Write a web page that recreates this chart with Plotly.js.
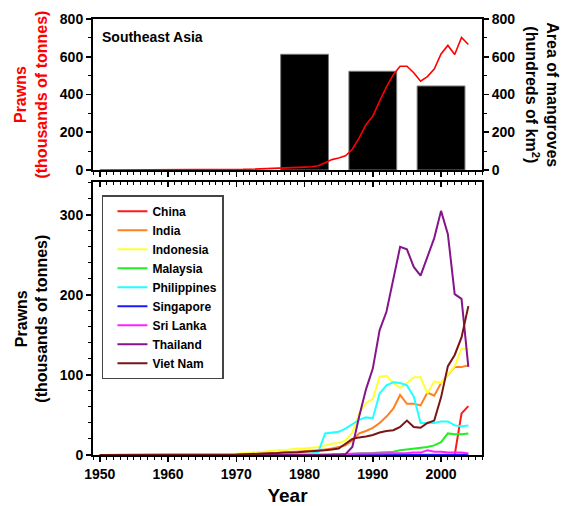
<!DOCTYPE html>
<html>
<head>
<meta charset="utf-8">
<script src="https://cdn.plot.ly/plotly-3.0.1.min.js"></script>
<style>html,body{margin:0;padding:0;background:#fff;}#chart{width:565px;height:506px;}</style>
</head>
<body>
<div id="chart"></div>
<script>
const years = [1950,1951,1952,1953,1954,1955,1956,1957,1958,1959,
  1960,1961,1962,1963,1964,1965,1966,1967,1968,1969,
  1970,1971,1972,1973,1974,1975,1976,1977,1978,1979,
  1980,1981,1982,1983,1984,1985,1986,1987,1988,1989,
  1990,1991,1992,1993,1994,1995,1996,1997,1998,1999,
  2000,2001,2002,2003,2004];

const seAsia = [0,0,0,0,0,0,0,0,0,0,
  0,0,0,0,0,0,0.5,1,1.5,2,
  2.5,3,4,5,6,7,8,9,11,13,
  15,17,22,38,55,63,75,110,170,240,
  285,365,440,505,550,550,515,470,495,535,
  615,660,612,702,665];

const mangroveYears = [1980, 1990, 2000];
const mangroveArea = [613, 523, 445];

const china = [0,0,0,0,0,0,0,0,0,0,
  0,0,0,0,0,0,0,0,0,0,
  0,0,0,0,0,0,0,0,0,0,
  0,0,0,0,0,0,0,0,0,0,
  0,0,0,0,0,0,0,0,0,0,
  0,0,0,52,61];
const india = [0,0,0,0,0,0,0,0,0,0,
  0,0,0,0,0,0,0,0,0,0,
  0.5,1,1,1.5,2,2,2.5,3,3.5,4,
  4.5,5,6,7,8,10,12,18,27,30,
  34,40,48,58,75,64,64,62,78,74,
  90,100,110,110,112];
const indonesia = [0,0,0,0,0,0,0,0,0,0,
  0,0,0,0,0,0,0,0,0.5,1,
  1.5,2,2.5,3,4,5,6,6,7,8,
  8,9,10,12,14,15,18,28,52,65,
  70,98,99,90,84,90,97,97,77,92,
  90,100,111,133,132];
const malaysia = [0,0,0,0,0,0,0,0,0,0,
  0,0,0,0,0,0,0,0,0,0,
  0,0,0,0,0,0,0,0,0,0,
  0.5,0.5,0.5,1,1,1,1,1.5,2,2,
  2.5,3,3.5,4,6,7,8,9,10,12,
  16,27,26,26,27];
const philippines = [0,0,0,0,0,0,0,0,0,0,
  0,0,0,0,0,0,0,0,0,0,
  0.5,0.5,0.5,1,1,1,1,1,1.5,1.5,
  1.5,2,3,27,28,29,33,38,44,47,
  46,77,87,91,90,87,73,40,40,40,
  42,42,37,36,37];
const singapore = [null,null,null,null,null,null,null,null,null,null,
  null,null,null,null,null,null,null,null,null,null,
  null,null,null,null,null,null,null,null,null,null,
  null,null,null,null,0.3,0.3,0.3,0.3,0.3,0.3,
  0.3,0.3,0.3,0.3,0.3,0.3,0.3,0.3,0.3,0.3,
  0.3,0.3,0.3,0.3,0.3];
const sriLanka = [null,null,null,null,null,null,null,null,null,null,
  null,null,null,null,null,null,null,null,null,null,
  null,null,null,null,null,null,null,null,null,null,
  null,null,null,null,0.5,1,1,1.5,2,2,
  2,2,2,2,2.5,2.5,3,3,6,4,
  4,3,3,3,2];
const thailand = [0,0,0,0,0,0,0,0,0,0,
  0,0,0,0,0,0,0,0,0,0,
  0,0,0,0,0,0,0,0,0,0,
  0,0,0,0,0,0,1,10,48,82,
  108,156,179,219,260,257,235,224,248,271,
  305,276,201,195,110];
const vietNam = [0,0,0,0,0,0,0,0,0,0,
  0,0,0,0,0,0,0,0,0,0,
  0.5,1,1,1.5,2,2,2.5,3,3,3.5,
  4,4.5,5,6,7,8,14,20,22,23,
  25,28,30,31,35,43,35,34,40,43,
  72,111,125,147,186];

const countryNames = ["China","India","Indonesia","Malaysia","Philippines","Singapore","Sri Lanka","Thailand","Viet Nam"];
const countryData = [china, india, indonesia, malaysia, philippines, singapore, sriLanka, thailand, vietNam];
const countryColors = ["#ff1a1a","#ff8020","#ffff33","#22ee22","#22ffff","#1a1aff","#ff22ff","#85158a","#7a1515"];

const FONT = "Liberation Sans, Arial, Helvetica, sans-serif";

const traces = [];
traces.push({
  type: "bar", x: mangroveYears, y: mangroveArea, xaxis: "x", yaxis: "y",
  width: 7, marker: {color: "#000", line: {color: "#777", width: 1}},
  showlegend: false, hoverinfo: "skip"
});
traces.push({
  type: "scatter", mode: "lines", x: years, y: seAsia, xaxis: "x", yaxis: "y3",
  line: {color: "#ff0000", width: 1.6}, showlegend: false, hoverinfo: "skip"
});
countryNames.forEach((n, i) => {
  traces.push({
    type: "scatter", mode: "lines", name: n, x: years, y: countryData[i],
    xaxis: "x2", yaxis: "y2", line: {color: countryColors[i], width: 2},
    connectgaps: false
  });
});
traces.push({type: "scatter", mode: "lines", x: [], y: [], xaxis: "x3", yaxis: "y2", showlegend: false, hoverinfo: "skip"});

const tickFont = {family: FONT, size: 14, color: "#000", weight: "bold"};
const xRange = [1949, 2006];

const layout = {
  width: 565, height: 506,
  margin: {l: 93, r: 83, t: 19, b: 51},
  paper_bgcolor: "#fff", plot_bgcolor: "rgba(0,0,0,0)",
  font: {family: FONT, color: "#000"},
  bargap: 0,
  xaxis: {
    domain: [0, 1], anchor: "y", range: xRange, tick0: 1950, dtick: 10,
    ticks: "outside", ticklen: 5, tickwidth: 1.5, tickcolor: "#000",
    minor: {dtick: 1, ticks: "outside", ticklen: 3, tickwidth: 1, tickcolor: "#000"},
    showticklabels: false, showline: true, linewidth: 2, linecolor: "#000", mirror: true,
    showgrid: false, zeroline: false
  },
  yaxis: {
    domain: [0.6537, 1], anchor: "x", side: "right", range: [0, 800], dtick: 200,
    ticks: "outside", ticklen: 5, tickwidth: 1.5, tickcolor: "#000",
    minor: {dtick: 100, ticks: "outside", ticklen: 3, tickwidth: 1, tickcolor: "#000"},
    tickfont: tickFont, showline: true, linewidth: 2, linecolor: "#000",
    showgrid: false, zeroline: false
  },
  yaxis3: {
    overlaying: "y", anchor: "x", side: "left", range: [0, 800], dtick: 200,
    ticks: "outside", ticklen: 5, tickwidth: 1.5, tickcolor: "#000",
    minor: {dtick: 100, ticks: "outside", ticklen: 3, tickwidth: 1, tickcolor: "#000"},
    tickfont: tickFont, showline: true, linewidth: 2, linecolor: "#000",
    showgrid: false, zeroline: false
  },
  xaxis2: {
    domain: [0, 1], anchor: "y2", range: xRange, tick0: 1950, dtick: 10,
    ticks: "outside", ticklen: 5, tickwidth: 1.5, tickcolor: "#000",
    minor: {dtick: 1, ticks: "outside", ticklen: 3, tickwidth: 1, tickcolor: "#000"},
    tickfont: tickFont, showline: true, linewidth: 2, linecolor: "#000", mirror: true,
    showgrid: false, zeroline: false,
    title: {text: "Year", font: {family: FONT, size: 19, color: "#000", weight: "bold"}, standoff: 8}
  },
  xaxis3: {
    overlaying: "x2", anchor: "y2", side: "top", range: xRange, tick0: 1950, dtick: 10,
    ticks: "inside", ticklen: 5, tickwidth: 1.5, tickcolor: "#000",
    minor: {dtick: 1, ticks: "inside", ticklen: 3, tickwidth: 1, tickcolor: "#000"},
    showticklabels: false, showline: false, showgrid: false, zeroline: false
  },
  yaxis2: {
    domain: [0, 0.626], anchor: "x2", range: [0, 341], dtick: 100,
    ticks: "outside", ticklen: 5, tickwidth: 1.5, tickcolor: "#000",
    minor: {dtick: 20, ticks: "outside", ticklen: 3, tickwidth: 1, tickcolor: "#000"},
    tickfont: tickFont, showline: true, linewidth: 2, linecolor: "#000", mirror: true,
    showgrid: false, zeroline: false
  },
  legend: {
    x: 0.023, y: 0.596, xanchor: "left", yanchor: "top",
    bgcolor: "#fff", bordercolor: "#444", borderwidth: 1.5,
    font: {family: FONT, size: 12, color: "#000", weight: "bold"},
    tracegroupgap: 0, indentation: 9
  },
  annotations: [
    {text: "Southeast Asia", xref: "paper", yref: "paper", x: 0.018, y: 0.9587,
     xanchor: "left", yanchor: "middle", showarrow: false,
     font: {family: FONT, size: 14, color: "#000", weight: "bold"}},
    {text: "Prawns<br>(thousands of tonnes)", xref: "paper", yref: "paper", x: -0.159, y: 0.827,
     xanchor: "center", yanchor: "middle", textangle: -90, showarrow: false,
     font: {family: FONT, size: 16, color: "#ff0000", weight: "bold"}},
    {text: "Area of mangroves<br>(hundreds of km<sup>2</sup>)", xref: "paper", yref: "paper", x: 1.152, y: 0.827,
     xanchor: "center", yanchor: "middle", textangle: 90, showarrow: false,
     font: {family: FONT, size: 16, color: "#000", weight: "bold"}},
    {text: "Prawns<br>(thousands of tonnes)", xref: "paper", yref: "paper", x: -0.159, y: 0.313,
     xanchor: "center", yanchor: "middle", textangle: -90, showarrow: false,
     font: {family: FONT, size: 16, color: "#000", weight: "bold"}}
  ]
};

Plotly.newPlot("chart", traces, layout, {displayModeBar: false, staticPlot: true});
</script>
</body>
</html>
